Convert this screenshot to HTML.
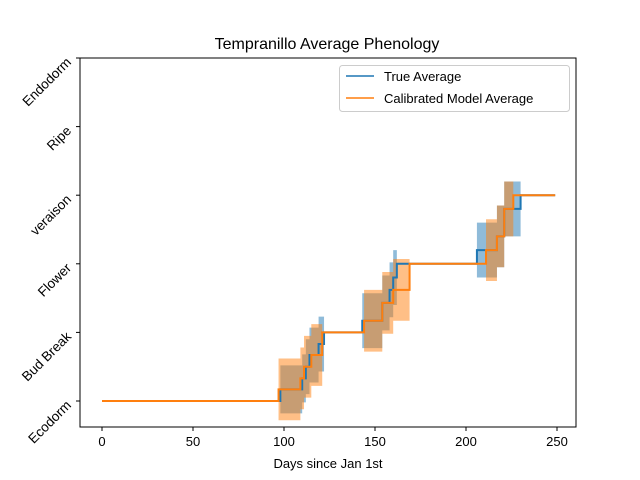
<!DOCTYPE html>
<html><head><meta charset="utf-8"><style>
body{margin:0;background:#fff;}
svg{display:block;font-family:"Liberation Sans","DejaVu Sans",sans-serif;}
</style></head><body>
<svg id="chart" width="640" height="480" viewBox="0 0 640 480">
<rect width="640" height="480" fill="#fff"/>
<text x="327" y="49" text-anchor="middle" font-size="16">Tempranillo Average Phenology</text>
<g id="bands"></g><g id="lines"></g>
<rect x="80" y="58" width="496" height="369" fill="none" stroke="#000" stroke-width="1"/>
<g id="xticks"></g><g id="yticks"></g>
<text x="328" y="468" text-anchor="middle" font-size="13">Days since Jan 1st</text>
<text transform="translate(-4,242) rotate(-90)" text-anchor="middle" font-size="13">Phenological Stage</text>
<g>
<rect x="339.5" y="65.5" width="230" height="46" rx="3" fill="#fff" fill-opacity="0.8" stroke="#ccc"/>
<line x1="346" y1="76" x2="374" y2="76" stroke="#1f77b4" stroke-width="1.5"/>
<text x="384" y="81" font-size="13">True Average</text>
<line x1="346" y1="98" x2="374" y2="98" stroke="#ff7f0e" stroke-width="1.5"/>
<text x="384" y="103" font-size="13">Calibrated Model Average</text>
</g>
</svg>
<script>
const stageLabels=["Ecodorm","Bud Break","Flower","veraison","Ripe","Endodorm"];
const xTicks=[0,50,100,150,200,250];
const trueDays=[0,98,110,112,114,119,122,143,154,158,160,162,206,217,221,230,249];
const trueVals=[0,0.17,0.33,0.5,0.67,0.83,1,1.17,1.43,1.62,1.8,2,2.2,2.4,2.8,3,3];
const trueStd=[0,0.35,0.35,0.4,0.4,0.4,0,0.4,0.4,0.4,0.4,0,0.4,0.45,0.4,0,0];
const modelDays=[0,97,109,111,115,121,144,154,160,169,211,217,221,226,249];
const modelVals=[0,0.17,0.33,0.5,0.67,1,1.17,1.43,1.62,2,2.2,2.4,2.8,3,3];
const modelStd=[0,0.45,0.45,0.45,0.45,0,0.45,0.45,0.45,0,0.45,0.45,0.4,0,0];

const NS="http://www.w3.org/2000/svg";
const X=d=>102+1.82*d;
const Y=v=>401-68.6*v;
function mk(t,a,p){const e=document.createElementNS(NS,t);for(const k in a)e.setAttribute(k,a[k]);p.appendChild(e);return e;}
const xt=document.getElementById('xticks'),yt=document.getElementById('yticks');
xTicks.forEach(t=>{
 const l=mk('line',{x1:X(t),x2:X(t),y1:427,y2:431,stroke:'#000'},xt);
 
 
 const tx=mk('text',{x:X(t),y:446,'text-anchor':'middle','font-size':13},xt);tx.textContent=t;
 
 
});
stageLabels.forEach((s,i)=>{
 const y=Y(i);
 const l=mk('line',{x1:76,x2:80,y1:y,y2:y,stroke:'#000'},yt);
 
 
 const tx=mk('text',{transform:`translate(72,${y+5}) rotate(-45)`,'text-anchor':'end','font-size':13.5},yt);tx.textContent=s;
 
 
});
function band(days,vals,std,color,name){
 let up='',lo='';
 for(let i=0;i<days.length-1;i++){
  up+=`${X(days[i])},${Y(vals[i]+std[i])} ${X(days[i+1])},${Y(vals[i]+std[i])} `;
  lo=`${X(days[i+1])},${Y(vals[i]-std[i])} ${X(days[i])},${Y(vals[i]-std[i])} `+lo;
 }
 const p=mk('polygon',{points:up+lo,fill:color,'fill-opacity':0.5},document.getElementById('bands'));
 
 
}
function line(days,vals,color,name){
 let pts='';
 for(let i=0;i<days.length;i++){
  if(i>0)pts+=`${X(days[i])},${Y(vals[i-1])} `;
  pts+=`${X(days[i])},${Y(vals[i])} `;
 }
 const p=mk('polyline',{points:pts,fill:'none',stroke:color,'stroke-width':2},document.getElementById('lines'));
 
 
}
band(trueDays,trueVals,trueStd,'#1f77b4','true-average-band');
band(modelDays,modelVals,modelStd,'#ff7f0e','model-average-band');
line(trueDays,trueVals,'#1f77b4','true-average-line');
line(modelDays,modelVals,'#ff7f0e','model-average-line');
</script>
</body></html>
